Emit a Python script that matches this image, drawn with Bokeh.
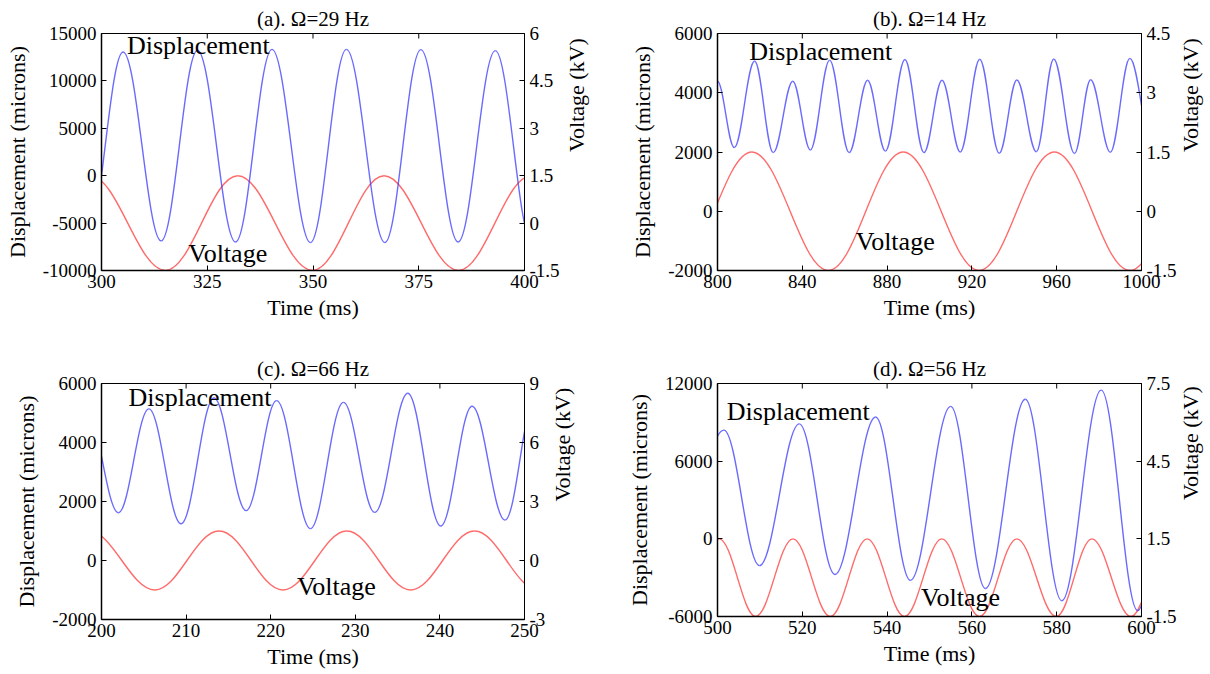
import math
from bokeh.plotting import figure
from bokeh.models import Range1d, LinearAxis, FixedTicker, CustomJSTickFormatter, Label, ColumnDataSource
from bokeh.layouts import column, row
from bokeh.embed import file_html
from bokeh.resources import INLINE

FONT = "'Liberation Serif', 'Times New Roman', serif"

# ---------------- data (extrema) ----------------
# (a) Omega = 29 Hz
a_disp_time = [296.6, 305.1, 314.1, 322.7, 331.7, 340.3, 349.4, 357.9, 367.0, 375.5, 384.3, 393.1, 401.7]
a_disp_um = [-6900, 13050, -6880, 13230, -6990, 13330, -7060, 13330, -7060, 13300, -6990, 13190, -6950]
a_volt_time = [297.3, 315.1, 332.2, 349.9, 366.8, 384.4, 401.6]
a_volt_kv = [1.5, -1.5, 1.5, -1.5, 1.5, -1.5, 1.5]

# (b) Omega = 14 Hz
b_disp_time = [799.9, 807.9, 817.5, 826.3, 835.5, 843.8, 852.9, 862.1, 870.8, 879.2, 888.4, 897.4,
               905.9, 914.5, 923.7, 932.9, 941.2, 950.4, 958.6, 968.4, 976.0, 985.3, 994.5, 1005.5]
b_disp_um = [4400, 2150, 5070, 1980, 4390, 2070, 5100, 1980, 4420, 2030, 5120, 1980,
             4420, 2000, 5130, 1960, 4430, 2010, 5140, 1950, 4440, 1990, 5160, 1990]
b_volt_time = [780.6, 816.2, 852.3, 887.6, 923.4, 958.9, 994.5, 1030.1]
b_volt_kv = [-1.5, 1.5, -1.5, 1.5, -1.5, 1.5, -1.5, 1.5]

# (c) Omega = 66 Hz
c_disp_time = [198.2, 202.0, 205.6, 209.4, 213.3, 217.1, 220.7, 224.7, 228.6, 232.3, 236.2, 240.1, 243.8, 247.7, 251.3]
c_disp_um = [5150, 1620, 5140, 1240, 5510, 1690, 5420, 1080, 5360, 1630, 5670, 1170, 5230, 1370, 5600]
c_volt_time = [198.5, 206.3, 213.9, 221.45, 229.0, 236.55, 244.1, 251.65]
c_volt_kv = [1.5, -1.5, 1.5, -1.5, 1.5, -1.5, 1.5, -1.5]

# (d) Omega = 56 Hz
d_disp_time = [490.6, 501.5, 509.9, 519.3, 527.7, 537.3, 545.5, 555.0, 563.2, 572.6, 581.2, 590.5, 599.1, 608.2]
d_disp_um = [-1500, 8400, -2070, 8880, -2750, 9410, -3210, 10230, -3840, 10780, -4780, 11490, -5550, 12000]
d_volt_time = [491.7, 500.4, 509.0, 517.8, 526.6, 535.3, 544.1, 552.9, 561.8, 570.6, 579.9, 588.3, 597.5, 606.3]
d_volt_kv = [-1.5, 1.5, -1.5, 1.5, -1.5, 1.5, -1.5, 1.5, -1.5, 1.5, -1.5, 1.5, -1.5, 1.5]

titles = ["(a). \u03a9=29 Hz", "(b). \u03a9=14 Hz", "(c). \u03a9=66 Hz", "(d). \u03a9=56 Hz"]

a_time_ticks = [300, 325, 350, 375, 400]
a_disp_ticks = [-10000, -5000, 0, 5000, 10000, 15000]
a_volt_ticks = [-1.5, 0, 1.5, 3, 4.5, 6]
b_time_ticks = [800, 840, 880, 920, 960, 1000]
b_disp_ticks = [-2000, 0, 2000, 4000, 6000]
b_volt_ticks = [-1.5, 0, 1.5, 3, 4.5]
c_time_ticks = [200, 210, 220, 230, 240, 250]
c_disp_ticks = [-2000, 0, 2000, 4000, 6000]
c_volt_ticks = [-3, 0, 3, 6, 9]
d_time_ticks = [500, 520, 540, 560, 580, 600]
d_disp_ticks = [-6000, 0, 6000, 12000]
d_volt_ticks = [-1.5, 1.5, 4.5, 7.5]

BLUE = "#3838ff"
RED = "#ff3a3a"
K = 0.3634  # bezier control fraction approximating a half-cosine between extrema
TICK_PX = 5


def bez_source(t, v):
    x0, x1, y0, y1 = t[:-1], t[1:], v[:-1], v[1:]
    cx0 = [a + K * (b - a) for a, b in zip(x0, x1)]
    cx1 = [b - K * (b - a) for a, b in zip(x0, x1)]
    return ColumnDataSource(dict(x0=x0, y0=y0, x1=x1, y1=y1, cx0=cx0, cy0=y0, cx1=cx1, cy1=y1))


fmt = "return String(tick);"


def panel(title, xr, yr, vr, xt, yt, vt, dt, dv, vtime, vv, disp_lbl, volt_lbl, borders, frame, rstand):
    bl, br, bt, bb = borders
    fw, fh = frame
    p = figure(frame_width=fw, frame_height=fh, min_border_left=bl, min_border_right=br,
               min_border_top=bt, min_border_bottom=bb,
               x_range=Range1d(*xr), y_range=Range1d(*yr),
               output_backend="svg", toolbar_location=None, title=title)
    p.extra_y_ranges = {"volt": Range1d(*vr)}
    p.title.text_font = FONT
    p.title.text_font_size = "21px"
    p.title.text_font_style = "normal"
    p.title.text_color = "black"
    p.title.align = "center"
    p.title.standoff = 5
    p.grid.visible = False
    p.outline_line_color = "black"
    p.outline_line_width = 1
    p.background_fill_color = "white"
    p.border_fill_color = "white"

    bottom = p.below[0]
    left = p.left[0]
    bottom.ticker = FixedTicker(ticks=xt)
    left.ticker = FixedTicker(ticks=yt)
    bottom.axis_label = "Time (ms)"
    left.axis_label = "Displacement (microns)"
    right = LinearAxis(y_range_name="volt", ticker=FixedTicker(ticks=vt), axis_label="Voltage (kV)")
    p.add_layout(right, "right")
    for ax in [bottom, left, right]:
        ax.formatter = CustomJSTickFormatter(code=fmt)
        ax.major_label_text_font = FONT
        ax.major_label_text_font_size = "19px"
        ax.axis_label_text_font = FONT
        ax.axis_label_text_font_size = "22px"
        ax.axis_label_text_font_style = "normal"
        ax.axis_label_text_color = "black"
        ax.major_label_text_color = "black"
        ax.major_tick_in = TICK_PX
        ax.major_tick_out = 0
        ax.minor_tick_line_color = None
        ax.axis_line_color = "black"
        ax.major_tick_line_color = "black"
        ax.major_label_standoff = 5
        ax.axis_label_standoff = 6
    bottom.axis_line_width = 1.5
    left.axis_line_width = 1.5
    left.axis_label_standoff = 10
    bottom.major_label_standoff = 4
    bottom.axis_label_standoff = 4
    right.axis_label_standoff = rstand
    right.axis_label_orientation = math.pi / 2

    # inner tick marks along the top edge, at the time ticks
    dy = (yr[1] - yr[0]) * TICK_PX / fh
    p.segment(x0=xt, y0=[yr[1]] * len(xt), x1=xt, y1=[yr[1] - dy] * len(xt),
              line_color="black", line_width=1)

    p.bezier(x0="x0", y0="y0", x1="x1", y1="y1", cx0="cx0", cy0="cy0", cx1="cx1", cy1="cy1",
             source=bez_source(vtime, vv), y_range_name="volt",
             line_color=RED, line_alpha=0.75, line_width=1.4)
    p.bezier(x0="x0", y0="y0", x1="x1", y1="y1", cx0="cx0", cy0="cy0", cx1="cx1", cy1="cy1",
             source=bez_source(dt, dv),
             line_color=BLUE, line_alpha=0.75, line_width=1.4)

    for (tx, ty), txt in [(disp_lbl, "Displacement"), (volt_lbl, "Voltage")]:
        p.add_layout(Label(x=tx, y=ty, text=txt, text_font=FONT, text_font_size="26px",
                           text_color="black", text_align="left", text_baseline="alphabetic"))
    return p


pa = panel(titles[0], (300, 400), (-10000, 15000), (-1.5, 6), a_time_ticks, a_disp_ticks, a_volt_ticks,
           a_disp_time, a_disp_um, a_volt_time, a_volt_kv, (306.0, 13700), (320.5, -8200),
           (101, 84, 33, 78), (423, 237), 14)
pb = panel(titles[1], (800, 1000), (-2000, 6000), (-1.5, 4.5), b_time_ticks, b_disp_ticks, b_volt_ticks,
           b_disp_time, b_disp_um, b_volt_time, b_volt_kv, (815.0, 5400), (865.2, -1010),
           (109, 69, 33, 78), (424, 237), 11)
pc = panel(titles[2], (200, 250), (-2000, 6000), (-3, 9), c_time_ticks, c_disp_ticks, c_volt_ticks,
           c_disp_time, c_disp_um, c_volt_time, c_volt_kv, (203.2, 5520), (223.1, -880),
           (101, 84, 34, 54), (423, 236), 14)
pd_ = panel(titles[3], (500, 600), (-6000, 12000), (-1.5, 7.5), d_time_ticks, d_disp_ticks, d_volt_ticks,
            d_disp_time, d_disp_um, d_volt_time, d_volt_kv, (502.2, 9800), (548.0, -4570),
            (109, 69, 35, 56), (424, 233), 11)

layout = column(row(pa, pb), row(pc, pd_))
open("out.html", "w").write(file_html(layout, INLINE))
